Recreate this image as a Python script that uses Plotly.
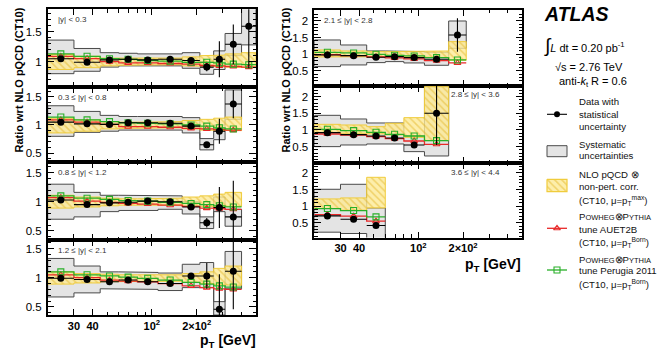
import numpy as np
import plotly.graph_objects as go

W, H = 661, 350

# ---------------- data ----------------
edges = [20, 30, 45, 60, 80, 110, 160, 210, 260, 310, 400, 500]

# panel |y| < 0.3
data1 = [1.05, 0.99, 1.03, 1.04, 1.03, 1.04, 1.02, 0.91, 1.04, 1.29, 1.59]
stat1 = [0.01, 0.01, 0.01, 0.01, 0.01, 0.02, 0.03, 0.07, 0.30, 0.33, 0.70]
sysu1 = [1.36, 1.22, 1.15, 1.14, 1.13, 1.13, 1.15, 1.00, 1.18, 1.47, 1.95]
sysl1 = [0.80, 0.84, 0.91, 0.93, 0.93, 0.93, 0.89, 0.79, 0.87, 1.10, 1.28]
nlou1 = [1.12, 1.09, 1.06, 1.06, 1.05, 1.06, 1.08, 1.10, 1.11, 1.13, 1.15]
nlol1 = [0.87, 0.90, 0.93, 0.94, 0.95, 0.95, 0.93, 0.92, 0.92, 0.91, 0.90]
red1 = [1.09, 1.05, 1.00, 0.98, 0.98, 0.97, 0.96, 0.94, 0.93, 0.92, 0.91]
green1 = [1.13, 1.09, 1.05, 1.04, 1.02, 1.01, 0.99, 0.99, 0.98, 0.96, 0.95]

# panel 0.3 <= |y| < 0.8
data2 = [1.05, 1.02, 1.01, 1.04, 1.04, 1.03, 0.98, 0.65, 0.89, 1.37]
stat2 = [0.01, 0.01, 0.01, 0.01, 0.02, 0.02, 0.03, 0.05, 0.22, 0.25]
sysu2 = [1.34, 1.24, 1.17, 1.15, 1.15, 1.15, 1.13, 0.76, 1.00, 1.62]
sysl2 = [0.80, 0.87, 0.89, 0.91, 0.91, 0.91, 0.86, 0.56, 0.74, 1.10]
nlou2 = [1.12, 1.09, 1.06, 1.05, 1.05, 1.06, 1.08, 1.10, 1.12, 1.14]
nlol2 = [0.86, 0.89, 0.93, 0.94, 0.95, 0.95, 0.93, 0.91, 0.91, 0.90]
red2 = [1.09, 1.05, 1.01, 0.97, 0.97, 0.96, 0.94, 0.93, 0.92, 0.91]
green2 = [1.14, 1.09, 1.06, 1.04, 1.03, 1.02, 1.00, 0.98, 0.95, 0.93]

# panel 0.8 <= |y| < 1.2
data3 = [1.03, 0.95, 0.98, 0.99, 1.01, 1.00, 0.91, 0.64, 0.90, 0.74]
stat3 = [0.01, 0.01, 0.01, 0.01, 0.02, 0.02, 0.04, 0.08, 0.35, 0.62]
sysu3 = [1.30, 1.16, 1.11, 1.11, 1.11, 1.10, 1.00, 0.74, 1.08, 0.87]
sysl3 = [0.70, 0.74, 0.83, 0.85, 0.85, 0.87, 0.79, 0.54, 0.83, 0.58]
nlou3 = [1.11, 1.08, 1.06, 1.05, 1.05, 1.06, 1.08, 1.10, 1.13, 1.16]
nlol3 = [0.89, 0.91, 0.93, 0.94, 0.95, 0.94, 0.92, 0.91, 0.92, 0.92]
red3 = [1.07, 1.01, 0.99, 0.97, 0.96, 0.94, 0.92, 0.89, 0.88, 0.87]
green3 = [1.10, 1.06, 1.04, 1.02, 1.01, 0.99, 0.97, 0.95, 0.93, 0.91]

# panel 1.2 <= |y| < 2.1
data4 = [0.99, 0.97, 0.93, 0.96, 0.93, 0.90, 1.03, 1.03, 0.46, 1.11]
stat4 = [0.01, 0.01, 0.01, 0.02, 0.02, 0.03, 0.05, 0.22, 0.60, 0.65]
sysu4 = [1.33, 1.20, 1.10, 1.10, 1.09, 1.08, 1.23, 1.26, 0.59, 1.45]
sysl4 = [0.67, 0.74, 0.81, 0.80, 0.80, 0.78, 0.83, 0.83, 0.36, 0.81]
nlou4 = [1.10, 1.07, 1.06, 1.05, 1.05, 1.05, 1.07, 1.10, 1.16, 1.20]
nlol4 = [0.89, 0.91, 0.93, 0.94, 0.94, 0.94, 0.92, 0.90, 0.88, 0.87]
red4 = [1.05, 1.00, 0.96, 0.94, 0.93, 0.90, 0.86, 0.83, 0.81, 0.80]
green4 = [1.10, 1.05, 1.03, 1.01, 0.99, 0.96, 0.92, 0.89, 0.86, 0.84]

# panel 2.1 <= |y| < 2.8
data5 = [0.98, 0.96, 0.91, 0.93, 0.90, 0.85, 1.58]
stat5 = [0.01, 0.02, 0.02, 0.03, 0.04, 0.06, 0.50]
sysu5 = [1.43, 1.28, 1.10, 1.10, 1.08, 1.06, 2.00]
sysl5 = [0.63, 0.68, 0.75, 0.78, 0.74, 0.67, 1.18]
nlou5 = [1.13, 1.10, 1.08, 1.08, 1.08, 1.10, 1.38]
nlol5 = [0.92, 0.93, 0.93, 0.93, 0.92, 0.90, 0.82]
red5 = [0.99, 0.96, 0.92, 0.89, 0.86, 0.81, 0.74]
green5 = [1.06, 1.04, 1.00, 0.97, 0.95, 0.90, 0.83]

# panel 2.8 <= |y| < 3.6
data6 = [0.92, 0.86, 0.82, 0.76, 0.55, 1.50]
stat6 = [0.02, 0.02, 0.03, 0.04, 0.05, 0.95]
sysu6 = [1.44, 1.33, 1.21, 1.21, 0.82, 2.30]
sysl6 = [0.50, 0.55, 0.58, 0.58, 0.35, 0.22]
nlou6 = [1.17, 1.15, 1.10, 1.20, 1.37, 2.30]
nlol6 = [0.92, 0.90, 0.88, 0.85, 0.78, 0.68]
red6 = [0.88, 0.85, 0.80, 0.74, 0.67, 0.57]
green6 = [1.02, 0.98, 0.93, 0.87, 0.82, 0.68]

# panel 3.6 <= |y| < 4.4
data7 = [0.71, 0.61, 0.42]
stat7 = [0.03, 0.04, 0.06]
sysu7 = [1.51, 1.66, 0.95]
sysl7 = [0.22, 0.18, 0.02]
nlou7 = [1.22, 1.25, 1.87]
nlol7 = [0.93, 0.88, 0.95]
red7 = [0.75, 0.70, 0.55]
green7 = [0.93, 0.87, 0.68]

rap_labels = ["|y| < 0.3", "0.3 ≤ |y| < 0.8", "0.8 ≤ |y| < 1.2", "1.2 ≤ |y| < 2.1",
              "2.1 ≤ |y| < 2.8", "2.8 ≤ |y| < 3.6", "3.6 ≤ |y| < 4.4"]
xtick_vals = [30, 40, 100, 200]
xtick_text = ["<b>30</b>", "<b>40</b>", "<b>10<sup>2</sup></b>", "<b>2×10<sup>2</sup></b>"]

series = [
    (data1, stat1, sysu1, sysl1, nlou1, nlol1, red1, green1),
    (data2, stat2, sysu2, sysl2, nlou2, nlol2, red2, green2),
    (data3, stat3, sysu3, sysl3, nlou3, nlol3, red3, green3),
    (data4, stat4, sysu4, sysl4, nlou4, nlol4, red4, green4),
    (data5, stat5, sysu5, sysl5, nlou5, nlol5, red5, green5),
    (data6, stat6, sysu6, sysl6, nlou6, nlol6, red6, green6),
    (data7, stat7, sysu7, sysl7, nlou7, nlol7, red7, green7),
]

# ---------------- layout geometry (pixels) ----------------
LX = (47.7, 256.0)
RX = (314.3, 522.3)
geom = [
    dict(x=LX, y=(9.3, 87.3), yr=(0.573, 1.873), side="L", bottom=False, lab="l"),
    dict(x=LX, y=(87.3, 162.0), yr=(0.346, 1.666), side="L", bottom=False, lab="l"),
    dict(x=LX, y=(162.0, 240.0), yr=(0.344, 1.680), side="L", bottom=False, lab="l"),
    dict(x=LX, y=(240.0, 315.0), yr=(0.361, 1.646), side="L", bottom=True, lab="l"),
    dict(x=RX, y=(10.0, 86.0), yr=(0.048, 2.33), side="R", bottom=False, lab="l"),
    dict(x=RX, y=(86.0, 163.0), yr=(0.009, 2.32), side="R", bottom=False, lab="r"),
    dict(x=RX, y=(163.0, 237.5), yr=(0.06, 2.30), side="R", bottom=True, lab="r"),
]

RED = "rgb(232,40,40)"
GREEN = "rgb(40,175,40)"
SYS_FILL = "#e4e4e4"
SYS_LINE = "#4a4a4a"
NLO_BG = "rgba(252,234,150,0.80)"
NLO_FG = "rgba(226,178,30,0.95)"
NLO_LINE = "rgb(240,204,60)"
FONT = "Liberation Sans, Arial, Helvetica, sans-serif"


def px(x):
    return x / W


def py(y):
    return 1 - y / H


def step_poly(e, lo, hi):
    n = len(hi)
    xs, ys = [e[0]], [lo[0]]
    for i in range(n):
        xs += [e[i], e[i + 1]]
        ys += [hi[i], hi[i]]
    for i in reversed(range(n)):
        xs += [e[i + 1], e[i]]
        ys += [lo[i], lo[i]]
    xs.append(e[0])
    ys.append(lo[0])
    return xs, ys


fig = go.Figure()
annotations = []

for k, (g, s) in enumerate(zip(geom, series)):
    d, st, su, sl, nu, nl, rd, gr = s
    n = len(d)
    e = edges[: n + 1]
    cen = [float(np.sqrt(e[i] * e[i + 1])) for i in range(n)]
    idx = "" if k == 0 else str(k + 1)
    xa, ya = "x" + idx, "y" + idx

    # systematic band
    xs, ys = step_poly(e, sl, su)
    fig.add_trace(go.Scatter(x=xs, y=ys, xaxis=xa, yaxis=ya, mode="lines", fill="toself",
                             fillcolor=SYS_FILL, line=dict(color=SYS_LINE, width=1),
                             showlegend=False, hoverinfo="skip"))
    # NLO band
    xs, ys = step_poly(e, nl, nu)
    fig.add_trace(go.Scatter(x=xs, y=ys, xaxis=xa, yaxis=ya, mode="lines", fill="toself",
                             fillcolor=NLO_BG,
                             fillpattern=dict(shape="\\", fgcolor=NLO_FG, bgcolor=NLO_BG,
                                              size=5, solidity=0.3),
                             line=dict(color=NLO_LINE, width=1),
                             showlegend=False, hoverinfo="skip"))
    # MC predictions
    for vals, col, sym in ((rd, RED, "triangle-up-open"), (gr, GREEN, "square-open")):
        fig.add_trace(go.Scatter(x=e, y=list(vals) + [vals[-1]], xaxis=xa, yaxis=ya,
                                 mode="lines", line=dict(color=col, width=1.3, shape="hv"),
                                 showlegend=False, hoverinfo="skip"))
        fig.add_trace(go.Scatter(x=cen, y=vals, xaxis=xa, yaxis=ya, mode="markers",
                                 marker=dict(symbol=sym, size=6, color=col, line=dict(width=1.1, color=col)),
                                 showlegend=False, hoverinfo="skip"))
    # data
    fig.add_trace(go.Scatter(
        x=cen, y=d, xaxis=xa, yaxis=ya, mode="markers",
        marker=dict(symbol="circle", size=7, color="black"),
        error_x=dict(type="data", symmetric=False,
                     array=[e[i + 1] - cen[i] for i in range(n)],
                     arrayminus=[cen[i] - e[i] for i in range(n)],
                     color="black", thickness=1.1, width=0),
        error_y=dict(type="data", array=st, color="black", thickness=1.1, width=0),
        showlegend=False, hoverinfo="skip"))

    # axes
    if g["side"] == "L":
        ytv = [0.5, 1, 1.5]
    else:
        ytv = [0.5, 1, 1.5, 2]
    minor_y = [round(v, 2) for v in np.arange(0.0, 2.41, 0.1)]
    xkey = "xaxis" + idx
    ykey = "yaxis" + idx
    fig.layout[xkey] = dict(
        type="log", range=[np.log10(20), np.log10(500)],
        domain=[px(g["x"][0]), px(g["x"][1])], anchor=ya,
        showline=True, linecolor="black", linewidth=1.5, mirror="allticks",
        ticks="inside", ticklen=6, tickwidth=1, tickcolor="black",
        tickmode="array", tickvals=xtick_vals, ticktext=xtick_text,
        showticklabels=g["bottom"], tickfont=dict(size=11, color="black", family=FONT),
        ticklabelstandoff=0,
        minor=dict(tickmode="array", tickvals=[20, 50, 60, 70, 80, 90, 300, 400, 500],
                   ticks="inside", ticklen=3.5, tickcolor="black"),
        showgrid=False, zeroline=False, fixedrange=True)
    fig.layout[ykey] = dict(
        range=list(g["yr"]), domain=[py(g["y"][1]), py(g["y"][0])], anchor=xa,
        showline=True, linecolor="black", linewidth=1.5, mirror="allticks",
        ticks="inside", ticklen=7, tickwidth=1, tickcolor="black",
        tickmode="array", tickvals=ytv, ticktext=[("%g" % v) for v in ytv],
        tickfont=dict(size=11.5, color="black", family=FONT), ticklabelstandoff=2,
        minor=dict(tickmode="array", tickvals=minor_y, ticks="inside", ticklen=3.5,
                   tickcolor="black"),
        showgrid=False, zeroline=False, fixedrange=True)

    # rapidity label
    if g["lab"] == "l":
        annotations.append(dict(text=rap_labels[k], x=px(g["x"][0] + 8), y=py(g["y"][0] + 10),
                                xref="paper", yref="paper", xanchor="left", yanchor="middle",
                                showarrow=False, font=dict(size=8, color="#333", family=FONT)))
    else:
        annotations.append(dict(text=rap_labels[k], x=px(g["x"][1] - 20), y=py(g["y"][0] + 9),
                                xref="paper", yref="paper", xanchor="right", yanchor="middle",
                                showarrow=False, font=dict(size=8, color="#333", family=FONT)))

# axis titles
for xc in (18.5, 285.5):
    annotations.append(dict(text="<b>Ratio wrt NLO pQCD (CT10)</b>", x=px(xc), y=py(80),
                            xref="paper", yref="paper", textangle=-90, showarrow=False,
                            xanchor="center", yanchor="middle",
                            font=dict(size=11, color="black", family=FONT)))
annotations.append(dict(text="<b>p<sub>T</sub> [GeV]</b>", x=px(258), y=py(341),
                        xref="paper", yref="paper", xanchor="right", yanchor="middle",
                        showarrow=False, font=dict(size=14, color="black", family=FONT)))
annotations.append(dict(text="<b>p<sub>T</sub> [GeV]</b>", x=px(523), y=py(265),
                        xref="paper", yref="paper", xanchor="right", yanchor="middle",
                        showarrow=False, font=dict(size=14, color="black", family=FONT)))

# ATLAS block
annotations.append(dict(text="<b><i>ATLAS</i></b>", x=px(542), y=py(13.5), xref="paper", yref="paper",
                        xanchor="left", yanchor="middle", showarrow=False,
                        font=dict(size=19.5, color="black", family=FONT)))
annotations.append(dict(text="<span style='font-size:19px'>∫</span><i>L</i> dt = 0.20 pb<sup>-1</sup>",
                        x=px(542), y=py(46), xref="paper", yref="paper", xanchor="left",
                        yanchor="middle", showarrow=False,
                        font=dict(size=11, color="black", family=FONT)))
annotations.append(dict(text="√s = 2.76 TeV", x=px(553), y=py(67), xref="paper", yref="paper",
                        xanchor="left", yanchor="middle", showarrow=False,
                        font=dict(size=11, color="black", family=FONT)))
annotations.append(dict(text="anti-<i>k</i><sub>t</sub> R = 0.6", x=px(557), y=py(82),
                        xref="paper", yref="paper", xanchor="left", yanchor="middle",
                        showarrow=False, font=dict(size=11, color="black", family=FONT)))

# legend texts
sc = "<span style='font-size:7.5px'>"
pw = "P" + sc + "OWHEG</span>⊗P" + sc + "YTHIA</span>"
leg_lines = [
    ("Data with", 101.7), ("statistical", 114.3), ("uncertainty", 126.7),
    ("Systematic", 144.3), ("uncertainties", 155.7),
    ("NLO pQCD ⊗", 174.0), ("non-pert. corr.", 186.7),
    ("(CT10, μ=p<sub>T</sub><sup>max</sup>)", 200.0),
    (pw, 216.7), ("tune AUET2B", 229.0), ("(CT10, μ=p<sub>T</sub><sup>Born</sup>)", 242.3),
    (pw, 259.0), ("tune Perugia 2011", 270.7), ("(CT10, μ=p<sub>T</sub><sup>Born</sup>)", 284.0),
]
for t, yy in leg_lines:
    annotations.append(dict(text=t, x=px(576.5), y=py(yy), xref="paper", yref="paper",
                            xanchor="left", yanchor="middle", showarrow=False,
                            font=dict(size=9.6, color="#111", family=FONT)))

# legend keys on an overlay pixel axis
LA = dict(xaxis="x8", yaxis="y8", showlegend=False, hoverinfo="skip")
kx0, kx1, kxc = 547, 567, 557
fig.add_trace(go.Scatter(x=[kx0, kx1], y=[114.3, 114.3], mode="lines",
                         line=dict(color="black", width=1.1), **LA))
fig.add_trace(go.Scatter(x=[kxc], y=[114.3], mode="markers",
                         marker=dict(symbol="circle", size=6, color="black"), **LA))
fig.add_trace(go.Scatter(x=[kx0, kx1, kx1, kx0, kx0], y=[145.7, 145.7, 156.7, 156.7, 145.7],
                         mode="lines", fill="toself", fillcolor=SYS_FILL,
                         line=dict(color=SYS_LINE, width=1), **LA))
fig.add_trace(go.Scatter(x=[kx0, kx1, kx1, kx0, kx0], y=[179.3, 179.3, 191.7, 191.7, 179.3],
                         mode="lines", fill="toself", fillcolor=NLO_BG,
                         fillpattern=dict(shape="\\", fgcolor=NLO_FG, bgcolor=NLO_BG, size=5, solidity=0.3),
                         line=dict(color=NLO_LINE, width=1.2), **LA))
for yy, col, sym in ((228.3, RED, "triangle-up-open"), (270.0, GREEN, "square-open")):
    fig.add_trace(go.Scatter(x=[kx0, kx1], y=[yy, yy], mode="lines",
                             line=dict(color=col, width=1.3), **LA))
    fig.add_trace(go.Scatter(x=[kxc], y=[yy], mode="markers",
                             marker=dict(symbol=sym, size=6, color=col, line=dict(width=1.1, color=col)), **LA))

fig.layout["xaxis8"] = dict(domain=[0, 1], range=[0, W], anchor="y8", visible=False, fixedrange=True)
fig.layout["yaxis8"] = dict(domain=[0, 1], range=[H, 0], anchor="x8", visible=False, fixedrange=True)

fig.update_layout(
    width=W, height=H, margin=dict(l=0, r=0, t=0, b=0),
    paper_bgcolor="white", plot_bgcolor="rgba(0,0,0,0)",
    font=dict(family=FONT, color="black"),
    annotations=annotations, showlegend=False,
)

fig.write_html("out.html", config={"displayModeBar": False})
